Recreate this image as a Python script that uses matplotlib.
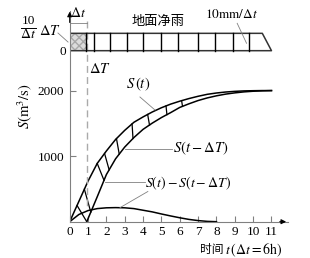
import numpy as np
import matplotlib
matplotlib.use('Agg')
import matplotlib.pyplot as plt
from matplotlib.patches import Rectangle

plt.rcParams['font.family'] = ['Liberation Serif', 'Noto Sans CJK SC']
plt.rcParams['mathtext.fontset'] = 'stix'

# S curve S(t), time in units of dt
t_s = [0, 0.5, 1, 1.5, 2, 2.5, 3, 3.5, 4, 4.5, 5, 5.5, 6, 6.5, 7, 7.5, 8, 8.5, 9, 9.5, 10, 10.5, 11]
s_t = [0, 310, 620, 890, 1080, 1255, 1395, 1518, 1600, 1675, 1740, 1795, 1840, 1880, 1915, 1945,
       1965, 1980, 1990, 1997, 2000, 2002, 2002]

# lagged S curve S(t - dT)
t_lag = [0.93, 1.5, 2, 2.5, 3, 3.5, 4, 4.5, 5, 5.5, 6, 6.5, 7, 7.5, 8, 8.5, 9, 9.5, 10, 10.5, 11]
s_lag = [0, 380, 720, 960, 1140, 1285, 1410, 1505, 1590, 1665, 1745, 1800, 1850, 1890, 1922,
         1948, 1967, 1982, 1992, 1998, 2002]

# S(t) - S(t - dT)
t_uh = [0, 0.5, 1, 1.5, 2, 2.5, 3, 3.5, 4, 4.5, 5, 5.5, 6, 6.5, 7, 7.5, 8]
q_uh = [0, 110, 170, 200, 212, 215, 212, 200, 175, 150, 118, 88, 60, 35, 17, 5, 0]

# hatch strokes between the two S curves (start on S(t), end on S(t-dT))
hatch_from = [0.4, 0.8, 1.5, 1.9, 2.55, 3.4, 4.25, 5.25, 6.1]
hatch_to = [0.93, 1.15, 1.87, 2.15, 2.7, 3.45, 4.35, 5.3, 6.15]

# net rainfall bar: cell dividers, first cell is dT
rain_marks = [0.9, 1.3, 2.2, 3.1, 4.0, 5.0, 5.9, 7.0, 7.9, 8.9, 9.8]
rain_lo, rain_hi = 2611, 2876

xticks = list(range(12))
yticks = [1000, 2000]

W, H = 310, 258
fig = plt.figure(figsize=(W / 100, H / 100), dpi=100)
ax = fig.add_axes([69.7 / W, 1 - 221.7 / H, (288 - 69.7) / W, (221.7 - 11) / H])
ax.set_xlim(0, 11.9)
ax.set_ylim(0, 3217)

gray = '#808080'
for sp in ['top', 'right']:
    ax.spines[sp].set_visible(False)
for sp in ['left', 'bottom']:
    ax.spines[sp].set_color(gray)
    ax.spines[sp].set_linewidth(0.8)

ax.set_xticks(xticks)
ax.set_xticklabels([str(v) for v in xticks], fontsize=9.5)
ax.set_yticks(yticks)
ax.set_yticklabels([str(v) for v in yticks], fontsize=9.5)
ax.tick_params(axis='x', direction='in', length=4, color=gray, width=0.8, pad=3)
ax.tick_params(axis='y', direction='in', length=4, color=gray, width=0.8, pad=4)

# arrows on axes
ax.annotate('', xy=(11.95, 0), xytext=(11.3, 0), annotation_clip=False,
            arrowprops=dict(arrowstyle='-|>', color='black', lw=0.8, mutation_scale=7))
ax.annotate('', xy=(0, 3250), xytext=(0, 3000), annotation_clip=False,
            arrowprops=dict(arrowstyle='-|>', color='black', lw=0.8, mutation_scale=7))

# curves
ax.plot(t_s, s_t, color='black', lw=1.1)
ax.plot(t_lag, s_lag, color='black', lw=1.1)
ax.plot(t_uh, q_uh, color='black', lw=1.1)
for a, b in zip(hatch_from, hatch_to):
    ax.plot([a, b], [np.interp(a, t_s, s_t), np.interp(b, t_lag, s_lag)], color='black', lw=0.9)

# dT dashed line
ax.plot([0.92, 0.92], [3060, 200], color='#aaaaaa', lw=1.0, ls=(0, (5, 3)), clip_on=False)
ax.plot([0, 0.92], [3040, 3040], color=gray, lw=0.6, clip_on=False)

# rainfall bar
ax.add_patch(Rectangle((0, rain_lo), rain_marks[0], rain_hi - rain_lo,
                       facecolor='#dcdcdc', edgecolor='#a8a8a8', hatch='xxxx', lw=0))
ax.plot([0, 10.5, 11, 0], [rain_hi, rain_hi, rain_lo, rain_lo], color='#333333', lw=1.1)
for m in rain_marks:
    ax.plot([m, m], [rain_lo, rain_hi], color='black', lw=1.0)

# leader lines
lead = dict(color=gray, lw=0.6, clip_on=False)
ax.plot([3.83, 4.65], [1904, 1705], **lead)
ax.plot([3.0, 5.57], [1110, 1110], **lead)
ax.plot([1.9, 4.1], [606, 606], **lead)
ax.plot([2.74, 4.26], [214, 461], **lead)
ax.plot([9.13, 9.64], [3029, 2724], **lead)
ax.plot([-0.64, -0.09], [2881, 2743], **lead)


def ftext(x, y, s, **kw):
    fig.text(x / W, 1 - y / H, s, va='center', **kw)


ftext(78, 13, r'$\Delta t$', ha='center', fontsize=10)
ftext(28, 21, '10', ha='center', fontsize=9.5)
fig.add_artist(plt.Line2D([21 / W, 36 / W], [1 - 27.5 / H, 1 - 27.5 / H], color='black', lw=0.7))
ftext(28.5, 34, r'$\Delta t$', ha='center', fontsize=10)
ftext(50, 31, r'$\Delta T$', ha='center', fontsize=10.5)
ftext(62.5, 52, '0', ha='center', fontsize=9.5)
ftext(100, 69, r'$\Delta T$', ha='center', fontsize=10.5)
ftext(158, 21, '地面净雨', ha='center', fontsize=9.5, family='Noto Sans CJK SC')
ftext(232, 14, r'$10\mathrm{mm}/\Delta t$', ha='center', fontsize=9.5)
ftext(138, 84, r'$S\,(t)$', ha='center', fontsize=10.5)
ftext(173, 148, r'$S(t-\Delta T)$', ha='left', fontsize=10.5)
ftext(145, 183, r'$S(t)-S(t-\Delta T)$', ha='left', fontsize=10)
fig.text(25 / W, 1 - 106 / H, r'$S\mathrm{(m^3/s)}$', rotation=90, ha='center', va='center', fontsize=10.5)
ftext(212, 250, '时间', ha='center', fontsize=8.5, family='Noto Sans CJK SC')
ftext(225, 250, r'$t\,(\Delta t=6\mathrm{h})$', ha='left', fontsize=10)

fig.savefig('out.png', dpi=100)
